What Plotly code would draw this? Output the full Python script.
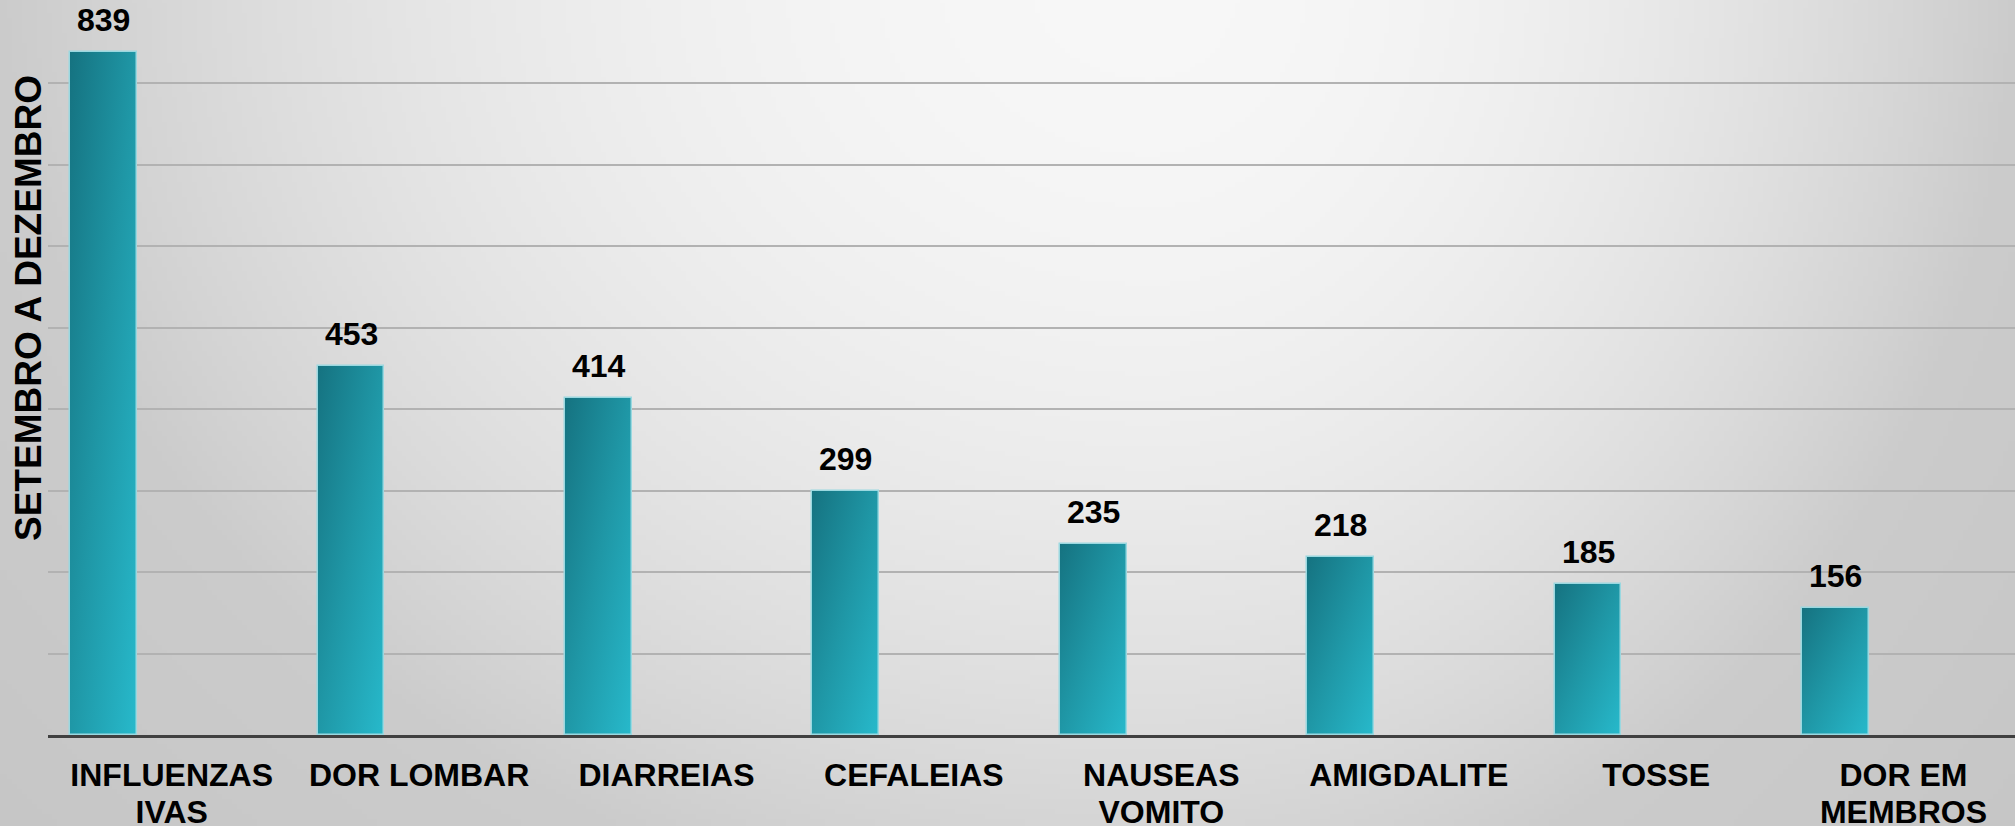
import base64
import struct
import zlib
import plotly.graph_objects as go

# ---------------- data ----------------
categories = ["INFLUENZAS IVAS", "DOR LOMBAR", "DIARREIAS", "CEFALEIAS",
              "NAUSEAS VOMITO", "AMIGDALITE", "TOSSE", "DOR EM MEMBROS"]
values = [839, 453, 414, 299, 235, 218, 185, 156]
tick_labels = ["INFLUENZAS<br>IVAS", "DOR LOMBAR", "DIARREIAS", "CEFALEIAS",
               "NAUSEAS<br>VOMITO", "AMIGDALITE", "TOSSE", "DOR EM<br>MEMBROS"]
y_title = "SETEMBRO A DEZEMBRO"

# ---------------- layout geometry ----------------
W, H = 2015, 826
ML, MR, MT, MB = 48, 0, 2, 91
PW, PH = W - ML - MR, H - MT - MB
FONT = "Liberation Sans, Arial, sans-serif"


# ---------------- background gradient image ----------------
def make_png(w, h, rows):
    raw = b"".join(b"\x00" + bytes(r) for r in rows)

    def chunk(t, d):
        return struct.pack(">I", len(d)) + t + d + struct.pack(">I", zlib.crc32(t + d) & 0xffffffff)

    return (b"\x89PNG\r\n\x1a\n"
            + chunk(b"IHDR", struct.pack(">IIBBBBB", w, h, 8, 0, 0, 0, 0))
            + chunk(b"IDAT", zlib.compress(raw, 9))
            + chunk(b"IEND", b""))


bw, bh = 404, 166
rows = []
cx, cy = 1150.0, -20.0
for j in range(bh):
    y = (j + 0.5) * H / bh
    row = []
    for i in range(bw):
        x = (i + 0.5) * W / bw
        rx = 1150.0 if x < cx else 865.0
        d2 = ((x - cx) / rx) ** 2 + ((y - cy) / 960.0) ** 2
        s = min(d2, 1.0) + 0.15 * max(0.0, d2 - 1.0)
        b = 247 - 44 * s
        row.append(max(0, min(255, int(round(b)))))
    rows.append(row)
bg_src = "data:image/png;base64," + base64.b64encode(make_png(bw, bh, rows)).decode()

# ---------------- figure ----------------
fig = go.Figure()
fig.add_trace(go.Bar(
    x=categories,
    y=values,
    width=0.27,
    offset=-0.41,
    marker=dict(color="#1f96a5", line=dict(color="#9ad8e0", width=1.5)),
    hoverinfo="x+y",
))

annotations = []
for c, v in zip(categories, values):
    annotations.append(dict(
        x=c, y=v, xref="x", yref="y", text=str(v), showarrow=False,
        xshift=-68, yshift=12, yanchor="bottom", xanchor="center",
        font=dict(family=FONT, size=32, color="#000000", weight="bold"),
    ))
annotations.append(dict(
    x=(28 - ML) / PW, y=(MT + PH - 308) / PH, xref="paper", yref="paper",
    text=y_title, textangle=-90, showarrow=False, xanchor="center", yanchor="middle",
    font=dict(family=FONT, size=37, color="#000000", weight="bold"),
))

fig.update_layout(
    width=W, height=H, autosize=False,
    margin=dict(l=ML, r=MR, t=MT, b=MB, pad=0, autoexpand=False),
    paper_bgcolor="#d8d8d8",
    plot_bgcolor="rgba(0,0,0,0)",
    showlegend=False,
    bargap=0,
    annotations=annotations,
    images=[dict(
        source=bg_src, xref="paper", yref="paper",
        x=-ML / PW, y=1 + MT / PH, sizex=W / PW, sizey=H / PH,
        xanchor="left", yanchor="top", sizing="stretch", layer="below",
    )],
    xaxis=dict(
        type="category", automargin=False,
        categoryorder="array", categoryarray=categories,
        tickvals=categories, ticktext=tick_labels,
        range=[-0.5, -0.5 + PW / 247.4],
        showgrid=False, zeroline=False,
        showline=True, linecolor="#404040", linewidth=3,
        ticks="", ticklabelstandoff=10,
        tickfont=dict(family=FONT, size=32, color="#000000", weight="bold"),
    ),
    yaxis=dict(
        automargin=False,
        range=[0, 900], dtick=100, tick0=0,
        showgrid=True, gridcolor="#b2b2b2", gridwidth=2,
        zeroline=False, showline=False, showticklabels=False, ticks="",
    ),
)

post = """
(function(){
  document.body.style.margin = '0';
  document.body.style.overflow = 'hidden';
  var gd = document.getElementById('{plot_id}');
  function apply(){
    var svg = gd.querySelector('svg.main-svg');
    if(!svg) return;
    var ns = 'http://www.w3.org/2000/svg';
    var defs = svg.querySelector('defs');
    if(!defs){ defs = document.createElementNS(ns, 'defs'); svg.insertBefore(defs, svg.firstChild); }
    if(!document.getElementById('bargrad')){
      var lg = document.createElementNS(ns, 'linearGradient');
      lg.setAttribute('id', 'bargrad');
      lg.setAttribute('x1', '0'); lg.setAttribute('y1', '0');
      lg.setAttribute('x2', '1'); lg.setAttribute('y2', '1');
      [['0', '#157280'], ['0.5', '#1f97a6'], ['1', '#27b9cb']].forEach(function(s){
        var st = document.createElementNS(ns, 'stop');
        st.setAttribute('offset', s[0]); st.setAttribute('stop-color', s[1]);
        lg.appendChild(st);
      });
      defs.appendChild(lg);
    }
    gd.querySelectorAll('.barlayer .point path').forEach(function(p){
      p.style.fill = 'url(#bargrad)';
    });
    // tighter line spacing for two-line category labels
    gd.querySelectorAll('.xtick text tspan.line').forEach(function(t){
      var dy = t.getAttribute('dy');
      if(dy && parseFloat(dy) > 0){ t.setAttribute('dy', '1.13em'); }
    });
  }
  apply();
  if(gd.on){ gd.on('plotly_afterplot', apply); }
})();
"""

fig.write_html("out.html", post_script=post, config={"displayModeBar": False})
